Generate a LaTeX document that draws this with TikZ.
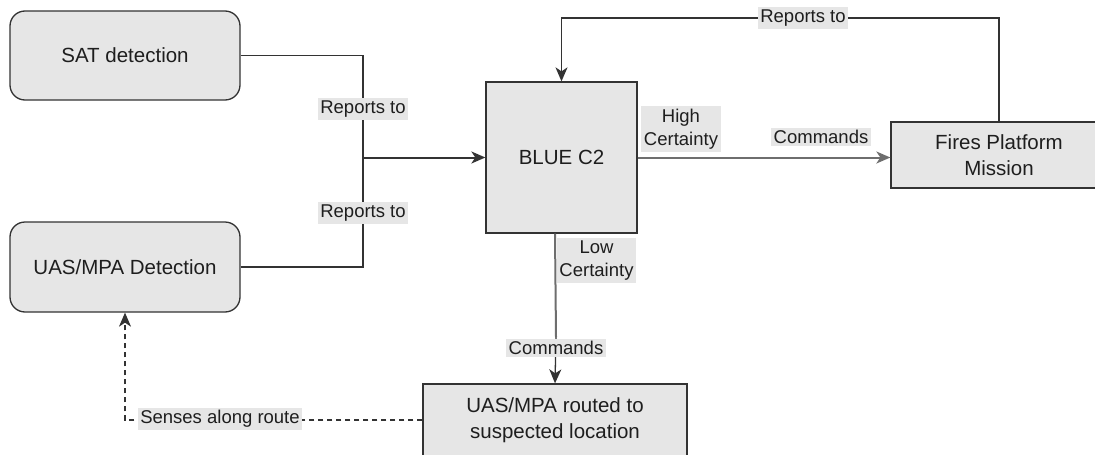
\documentclass[tikz,border=0pt]{standalone}
\usepackage{fontspec}
\setmainfont{Liberation Sans}
\usetikzlibrary{arrows.meta}
\definecolor{boxfill}{HTML}{E6E6E6}
\definecolor{boxline}{HTML}{333333}
\definecolor{greyline}{HTML}{6E6E6E}
\definecolor{txt}{HTML}{1E1E1E}
\tikzset{
  boxbase/.style={draw=boxline, fill=boxfill, line width=1.3pt, text=txt,
    align=center, font=\fontsize{20.5}{26}\selectfont, inner sep=0pt},
  roundbox/.style={boxbase, rounded corners=15pt},
  sqbox/.style={boxbase},
  lbl/.style={fill=boxfill, inner sep=2.5pt, text=txt, align=center,
    font=\fontsize{18.5}{23}\selectfont},
  conn/.style={draw=boxline, line width=1.3pt},
  tip/.style={-{Stealth[length=14pt,width=12pt,inset=4pt]}},
}
\begin{document}
\begin{tikzpicture}[x=1pt,y=-1pt]
\path[use as bounding box] (0,0) rectangle (1095,455);
\clip (0,0) rectangle (1095,455);

% boxes
\node[roundbox, minimum width=230pt, minimum height=89pt] (sat) at (125,55.5) {SAT detection};
\node[roundbox, minimum width=230pt, minimum height=90pt] (uasd) at (125,267) {UAS/MPA Detection};
\node[sqbox, minimum width=151pt, minimum height=151pt] (blue) at (561.5,157.5) {BLUE C2};
\node[sqbox, minimum width=216pt, minimum height=66pt] (fires) at (999,155) {Fires Platform\\Mission};
\node[sqbox, minimum width=264pt, minimum height=72pt] (routed) at (555,420) {UAS/MPA routed to\\suspected location};

% junction
\coordinate (j) at (363,157.5);
\coordinate (top) at (0,18);

\draw[conn] (sat.east) -| (j);
\draw[conn] (uasd.east) -| (j);
\draw[conn, line width=2pt, tip] (j) -- (blue.west);
\node[lbl] (rep1) at (363,109) {Reports to};
\node[lbl] (rep2) at (363,213) {Reports to};

% blue -> fires
\draw[conn, draw=greyline, line width=2pt, tip] (blue.east) -- (blue.east -| fires.west);
\node[lbl] (high) at (681,129) {High\\Certainty};
\node[lbl] (cmd1) at (821,137) {Commands};

% fires -> blue (top loop)
\draw[conn, tip] (fires.north) -- (fires.north |- top) -- (blue.north |- top) -- (blue.north);
\node[lbl] (rep3) at (803,18) {Reports to};

% blue -> routed
\draw[conn, draw=greyline, line width=2pt] (blue.south -| routed.north) -- (556,337);
\draw[conn, tip] (556,337) -- (routed.north);
\node[lbl] (low) at (596.5,260.5) {Low\\Certainty};
\node[lbl] (cmd2) at (556,348) {Commands};

% routed -> uasd dashed
\draw[conn, dashed, dash pattern=on 5pt off 4pt, tip] (routed.west) -| (uasd.south);
\node[lbl] (sens) at (220,419) {Senses along route};
\end{tikzpicture}
\end{document}
